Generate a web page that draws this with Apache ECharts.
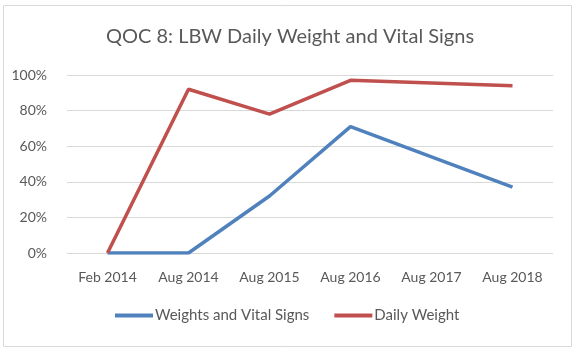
<!DOCTYPE html>
<html>
<head>
<meta charset="utf-8">
<title>QOC 8</title>
<script src="https://cdn.jsdelivr.net/npm/echarts@6/dist/echarts.min.js"></script>
<style>
  html, body { margin: 0; padding: 0; background: #fff; }
  #chart { width: 580px; height: 352px; }
</style>
</head>
<body>
<div id="chart"></div>
<script>
var categories = ['Feb 2014', 'Aug 2014', 'Aug 2015', 'Aug 2016', 'Aug 2017', 'Aug 2018'];
var weightsVital = [0, 0, 32, 71, null, 37];
var dailyWeight = [0, 92, 78, 97, null, 94];

var font = 'Lato, sans-serif';
var chart = echarts.init(document.getElementById('chart'));
chart.setOption({
  animation: false,
  graphic: [{
    type: 'rect',
    shape: { x: 3.5, y: 5.5, width: 568, height: 341 },
    style: { fill: 'none', stroke: '#d9d9d9', lineWidth: 1 }
  }],
  title: {
    text: 'QOC 8: LBW Daily Weight and Vital Signs',
    left: 'center',
    top: 22,
    textStyle: { color: '#595959', fontSize: 20, fontWeight: 'normal', fontFamily: font }
  },
  legend: {
    bottom: 24,
    left: 110,
    itemWidth: 38,
    itemHeight: 4,
    itemGap: 25,
    icon: 'rect',
    textStyle: { color: '#595959', fontSize: 15, fontFamily: font, padding: [0, 0, 0, -3] },
    data: ['Weights and Vital Signs', 'Daily Weight']
  },
  grid: { left: 67, right: 27, top: 75, bottom: 99 },
  xAxis: {
    type: 'category',
    data: categories,
    boundaryGap: true,
    axisLine: { show: false },
    axisTick: { show: false },
    axisLabel: { color: '#595959', fontSize: 14, fontFamily: font, margin: 17 }
  },
  yAxis: {
    type: 'value',
    min: 0,
    max: 100,
    interval: 20,
    axisLine: { show: false },
    axisTick: { show: false },
    splitLine: { lineStyle: { color: '#d9d9d9', width: 1 } },
    axisLabel: { color: '#595959', fontSize: 14, fontFamily: font, margin: 20, formatter: '{value}%' }
  },
  series: [{
    name: 'Weights and Vital Signs',
    type: 'line',
    data: weightsVital,
    connectNulls: true,
    showSymbol: false,
    symbol: 'none',
    itemStyle: { color: '#4F81BD' },
    lineStyle: { color: '#4F81BD', width: 3.5 }
  }, {
    name: 'Daily Weight',
    type: 'line',
    data: dailyWeight,
    connectNulls: true,
    showSymbol: false,
    symbol: 'none',
    itemStyle: { color: '#C0504D' },
    lineStyle: { color: '#C0504D', width: 3.5 }
  }]
});
</script>
</body>
</html>
